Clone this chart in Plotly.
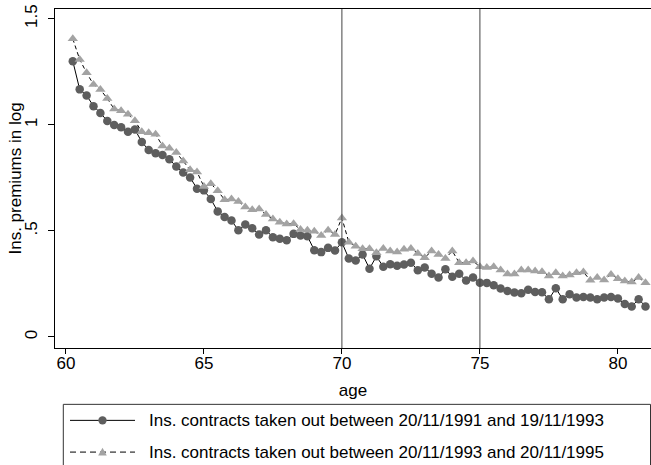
import plotly.graph_objects as go

ages = [60 + 0.25 * i for i in range(1, 85)]

premium_91_93 = [
    1.300, 1.167, 1.138, 1.088, 1.056, 1.018, 0.999, 0.988, 0.967, 0.978,
    0.919, 0.881, 0.866, 0.858, 0.838, 0.803, 0.775, 0.752, 0.699, 0.691,
    0.650, 0.592, 0.566, 0.549, 0.503, 0.530, 0.512, 0.483, 0.503, 0.470,
    0.463, 0.456, 0.486, 0.478, 0.475, 0.409, 0.400, 0.420, 0.408, 0.446,
    0.370, 0.360, 0.389, 0.322, 0.380, 0.331, 0.343, 0.336, 0.342, 0.350,
    0.315, 0.328, 0.298, 0.280, 0.319, 0.284, 0.298, 0.266, 0.280, 0.256,
    0.255, 0.244, 0.228, 0.217, 0.210, 0.206, 0.223, 0.212, 0.211, 0.178,
    0.230, 0.178, 0.202, 0.186, 0.189, 0.186, 0.178, 0.186, 0.189, 0.181,
    0.155, 0.144, 0.178, 0.144,
]

premium_93_95 = [
    1.405, 1.308, 1.245, 1.190, 1.166, 1.124, 1.074, 1.066, 1.050, 1.019,
    0.967, 0.963, 0.956, 0.900, 0.889, 0.869, 0.830, 0.788, 0.778, 0.709,
    0.722, 0.689, 0.647, 0.650, 0.639, 0.613, 0.600, 0.603, 0.577, 0.556,
    0.541, 0.533, 0.534, 0.506, 0.503, 0.498, 0.478, 0.503, 0.483, 0.561,
    0.447, 0.428, 0.416, 0.416, 0.397, 0.417, 0.405, 0.400, 0.413, 0.417,
    0.394, 0.374, 0.405, 0.389, 0.370, 0.405, 0.350, 0.350, 0.358, 0.331,
    0.327, 0.331, 0.316, 0.297, 0.297, 0.316, 0.316, 0.311, 0.308, 0.287,
    0.303, 0.287, 0.292, 0.303, 0.306, 0.267, 0.280, 0.269, 0.295, 0.275,
    0.264, 0.259, 0.280, 0.256,
]

series_names = [
    "Ins. contracts taken out between 20/11/1991 and 19/11/1993",
    "Ins. contracts taken out between 20/11/1993 and 20/11/1995",
]
x_ticks = [60, 65, 70, 75, 80]
y_ticks = [0, 0.5, 1, 1.5]
y_tick_labels = ["0", ".5", "1", "1.5"]
ref_ages = [70, 75]
x_title = "age"
y_title = "Ins. premiums in log"

FONT = "Liberation Sans, Arial, sans-serif"
W, H = 651, 465
ML, MR, MT, MB = 55, 0, 9, 117.3
PW = W - ML - MR
PH = H - MT - MB


def px_x(p):
    return (p - ML) / PW


def px_y(p):
    return (H - MB - p) / PH


fig = go.Figure()
fig.add_trace(go.Scatter(
    x=ages, y=premium_91_93, mode="lines+markers", name=series_names[0],
    line=dict(color="black", width=1),
    marker=dict(symbol="circle", size=8.5, color="#5e5e5e"),
    showlegend=False,
))
fig.add_trace(go.Scatter(
    x=ages, y=premium_93_95, mode="lines+markers", name=series_names[1],
    line=dict(color="black", width=1, dash="4px,3px"),
    marker=dict(symbol="triangle-up", size=9, color="#a3a3a3"),
    showlegend=False,
))

for a in ref_ages:
    fig.add_vline(x=a, line=dict(color="#444444", width=1))

# legend (drawn manually to mimic the Stata legend box)
shapes = []
shapes.append(dict(type="rect", xref="paper", yref="paper",
                   x0=px_x(63.3), x1=px_x(650.5), y0=px_y(470), y1=px_y(404),
                   line=dict(color="#333333", width=1), fillcolor="rgba(0,0,0,0)"))
rows = [420, 451.7]
shapes.append(dict(type="line", xref="paper", yref="paper",
                   x0=px_x(70), x1=px_x(135), y0=px_y(rows[0]), y1=px_y(rows[0]),
                   line=dict(color="black", width=1)))
shapes.append(dict(type="line", xref="paper", yref="paper",
                   x0=px_x(70), x1=px_x(135), y0=px_y(rows[1]), y1=px_y(rows[1]),
                   line=dict(color="black", width=1, dash="6px,4px")))
r = 4.2
shapes.append(dict(type="circle", xref="paper", yref="paper",
                   x0=px_x(102.5 - r), x1=px_x(102.5 + r),
                   y0=px_y(rows[0] + r), y1=px_y(rows[0] - r),
                   line=dict(width=0), fillcolor="#5e5e5e"))
tx, ty, ts = 102.5, rows[1], 4.3
tri = "M {} {} L {} {} L {} {} Z".format(
    px_x(tx - ts), px_y(ty + ts * 0.8),
    px_x(tx + ts), px_y(ty + ts * 0.8),
    px_x(tx), px_y(ty - ts),
)
shapes.append(dict(type="path", xref="paper", yref="paper", path=tri,
                   line=dict(width=0), fillcolor="#a3a3a3"))

annotations = []
for name, ry in zip(series_names, rows):
    annotations.append(dict(
        text=name, xref="paper", yref="paper", x=px_x(146.7), y=px_y(ry),
        xanchor="left", yanchor="middle", showarrow=False,
        font=dict(family=FONT, size=17, color="black"),
    ))
annotations.append(dict(
    text=y_title, xref="paper", yref="paper", x=px_x(15), y=0.5,
    xanchor="center", yanchor="middle", textangle=-90, showarrow=False,
    font=dict(family=FONT, size=17, color="black"),
))

fig.update_layout(
    width=W, height=H, autosize=False,
    margin=dict(l=ML, r=MR, t=MT, b=MB, pad=0),
    paper_bgcolor="white", plot_bgcolor="white",
    font=dict(family=FONT, size=17, color="black"),
    shapes=list(fig.layout.shapes) + shapes,
    annotations=annotations,
    xaxis=dict(
        range=[59.605, 81.199], tickvals=x_ticks, ticktext=[str(v) for v in x_ticks],
        showgrid=False, zeroline=False, showline=True, linecolor="black",
        linewidth=1, mirror=True, ticks="outside", ticklen=5, tickcolor="black",
        ticklabelstandoff=-5,
        title=dict(text=x_title, standoff=11, font=dict(size=17)),
        tickfont=dict(size=17),
    ),
    yaxis=dict(
        range=[-0.0519, 1.5458], tickvals=y_ticks, ticktext=y_tick_labels,
        showgrid=False, zeroline=False, showline=True, linecolor="black",
        linewidth=1, ticks="outside", ticklen=6, tickcolor="black",
        tickangle=-90, ticklabelstandoff=4,
        tickfont=dict(size=17),
    ),
)

fig.write_html(
    "out.html",
    config={"displayModeBar": False},
    post_script="document.body.style.margin='0px';document.body.style.overflow='hidden';",
)
